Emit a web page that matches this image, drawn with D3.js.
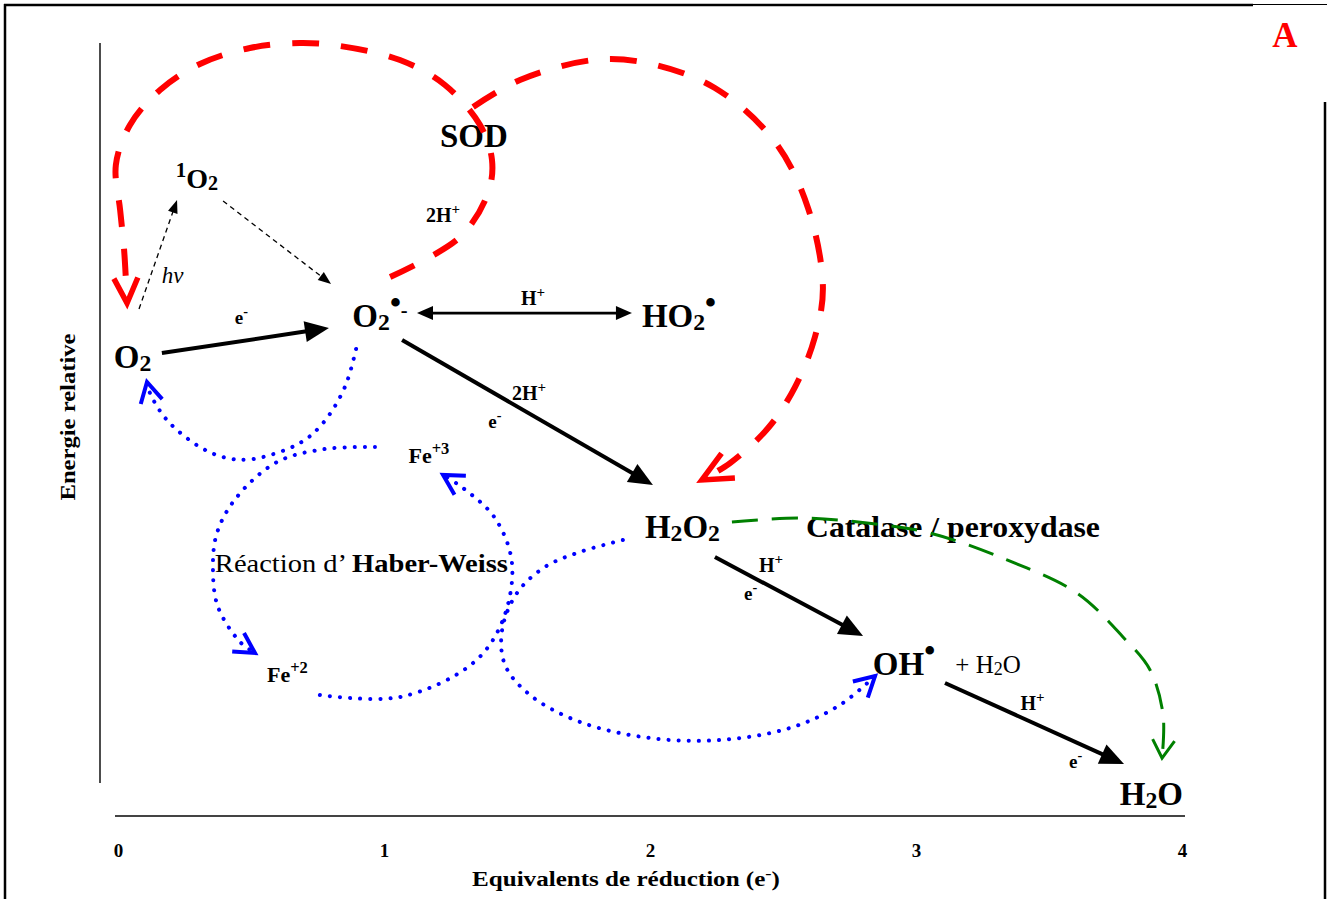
<!DOCTYPE html>
<html><head><meta charset="utf-8">
<script src="https://cdn.jsdelivr.net/npm/d3@7"></script>
<style>
html,body{margin:0;padding:0;background:#fff;}
svg{display:block;font-family:"Liberation Serif","Times New Roman",serif;}
text{white-space:pre;}
</style></head><body>
<svg id="chart" width="1330" height="899"></svg>
<script>
// ---------- DATA (x = reduction equivalents, e = relative energy 0..100) ----------
const xTicks = [0, 1, 2, 3, 4];
const xTitle = [["Equivalents de réduction (e"], ["-", "sup"], [")"]];
const yTitle = "Energie relative";
const panelLetter = "A";

const species = [
  {id: "O2",   x: 0.055, e: 58.05, parts: [["O"], ["2", "sub"]]},
  {id: "O2-",  x: 0.985, e: 63.38, parts: [["O"], ["2", "sub"], ["•", "dot"], ["-", "dsh"]]},
  {id: "HO2",  x: 2.109, e: 63.38, parts: [["HO"], ["2", "sub"], ["•", "dot"]]},
  {id: "H2O2", x: 2.122, e: 35.97, parts: [["H"], ["2", "sub"], ["O"], ["2", "sub"]]},
  {id: "OH",   x: 2.955, e: 18.18, parts: [["OH"], ["•", "dot"]]},
  {id: "H2O",  x: 3.885, e: 1.30,  parts: [["H"], ["2", "sub"], ["O"]]}
];
const singlet = [{id: "1O2", x: 0.297, e: 81.43, parts: [["1", "sup"], ["O"], ["2", "sub"]]}];

const cofactors = [
  {x: 1.222, e: 77.01, parts: [["2H"], ["+", "sup"]]},
  {x: 1.560, e: 66.23, parts: [["H"], ["+", "sup"]]},
  {x: 1.545, e: 53.90, parts: [["2H"], ["+", "sup"]]},
  {x: 2.455, e: 31.56, parts: [["H"], ["+", "sup"]]},
  {x: 3.438, e: 13.64, parts: [["H"], ["+", "sup"]]}
];
const electrons = [
  {x: 0.464, e: 63.77, parts: [["e"], ["-", "sup"]]},
  {x: 1.417, e: 50.26, parts: [["e"], ["-", "sup"]]},
  {x: 2.378, e: 27.92, parts: [["e"], ["-", "sup"]]},
  {x: 3.600, e: 6.10,  parts: [["e"], ["-", "sup"]]}
];
const light = [{x: 0.205, e: 69.09, parts: [["hv"]]}];
const ions = [
  {x: 1.169, e: 45.71, parts: [["Fe"], ["+3", "sup"]]},
  {x: 0.637, e: 17.27, parts: [["Fe"], ["+2", "sup"]]}
];
const enzymeSOD = [{x: 1.338, e: 86.75, parts: [["SOD"]]}];
const enzymeCat = [{x: 3.139, e: 36.10, parts: [["Catalase / peroxydase"]]}];
const haberWeiss = [{x: 0.915, e: 31.56, parts: [["Réaction d’ ", null, "normal"], ["Haber-Weiss", null, "bold"]]}];
const waterNote = [{x: 3.271, e: 18.44, parts: [["+ H"], ["2", "sub"], ["O"]]}];

// solid one-electron steps [from, to]
const reactions = [
  [[0.165, 60.00], [0.793, 63.25]],   // O2 -> O2•-
  [[1.068, 61.69], [2.011, 42.86]],   // O2•- -> H2O2
  [[2.244, 33.51], [2.801, 23.25]],   // H2O2 -> OH•
  [[3.109, 17.14], [3.782, 6.62]]     // OH• -> H2O
];
const equilibrium = [[[1.124, 65.19], [1.932, 65.19]]]; // O2•- <-> HO2•
const photoSteps = [
  [[0.079, 65.71], [0.222, 79.87]],   // O2 -> 1O2 (hv)
  [[0.395, 79.74], [0.801, 68.96]]    // 1O2 -> O2•-
];

const sodToO2 = [[1.023,69.87],[1.286,75.06],[1.391,80.78],[1.406,85.06],[1.361,89.61],[1.229,94.81],[1.060,98.05],[0.835,99.87],[0.684,100.26],[0.496,99.61],[0.308,97.53],[0.158,94.16],[0.045,89.61],[-0.008,84.42],[0.008,78.57],[0.023,73.38],[0.034,66.49]];
const sodToH2O2 = [[1.335,91.95],[1.511,95.45],[1.786,98.05],[1.989,97.66],[2.244,94.42],[2.470,87.40],[2.594,78.83],[2.650,68.57],[2.620,62.08],[2.545,55.58],[2.444,50.26],[2.301,45.71],[2.195,43.51]];
const catalase = [[2.308,38.05],[2.564,38.57],[2.816,37.92],[3.053,36.62],[3.342,33.12],[3.605,28.83],[3.778,23.12],[3.880,18.83],[3.929,12.99],[3.925,7.40]];
const hwToO2 = [[0.895,60.52],[0.853,55.58],[0.771,50.91],[0.684,48.31],[0.508,46.23],[0.410,46.36],[0.308,47.79],[0.184,51.30],[0.120,54.81],[0.109,56.23]];
const hwFe3ToFe2 = [[0.966,47.79],[0.778,47.53],[0.598,45.84],[0.447,41.30],[0.372,36.62],[0.357,31.82],[0.376,27.01],[0.459,22.47],[0.515,21.04]];
const hwFe2ToFe3 = [[0.759,15.58],[1.060,15.32],[1.335,19.74],[1.447,25.32],[1.481,32.73],[1.417,38.57],[1.297,42.47],[1.222,44.16]];
const hwH2O2ToOH = [[1.898,35.71],[1.737,34.16],[1.605,32.21],[1.500,28.83],[1.444,24.03],[1.455,19.48],[1.549,15.58],[1.737,12.08],[2.000,10.00],[2.263,9.74],[2.526,11.30],[2.714,14.29],[2.846,18.05]];

// ---------- RENDER ----------
const svg = d3.select("#chart");
const x = d3.scaleLinear().domain([0, 4]).range([118, 1182]);
const y = d3.scaleLinear().domain([0, 100]).range([815, 45]);
const P = d => [x(d[0]), y(d[1])];

// frame
const frame = svg.append("g").attr("stroke", "#000").attr("fill", "none");
frame.append("line").attr("x1", 5).attr("y1", 4).attr("x2", 5).attr("y2", 899).attr("stroke-width", 2.5);
frame.append("line").attr("x1", 4).attr("y1", 5).attr("x2", 1253).attr("y2", 5).attr("stroke-width", 2.5);
frame.append("line").attr("x1", 1253).attr("y1", 4.5).attr("x2", 1327).attr("y2", 4.5).attr("stroke-width", 1.2);
frame.append("line").attr("x1", 1325).attr("y1", 102).attr("x2", 1325).attr("y2", 899).attr("stroke-width", 2.5);
// y axis line
frame.append("line").attr("x1", 100).attr("y1", 43).attr("x2", 100).attr("y2", 783).attr("stroke-width", 1.4);

// x axis
const ax = svg.append("g").attr("transform", "translate(0,816)")
  .call(d3.axisBottom(x).tickValues(xTicks).tickSize(0).tickPadding(28).tickFormat(d3.format("d")));
ax.attr("font-size", null).attr("font-family", null);
ax.select(".domain").attr("stroke", "#444").attr("stroke-width", 2).attr("d", "M115,0H1185");
ax.selectAll("text").style("font-family", '"Liberation Serif",serif').style("font-size", "19px").style("font-weight", "bold").attr("fill", "#000");

const kinds = {
  base: {size: 1, off: 0},
  sub:  {size: 0.72, off: 0.08},
  sup:  {size: 0.75, off: -0.4},
  dot:  {size: 0.95, off: -0.42},
  dsh:  {size: 0.62, off: -0.3}
};
function label(g, d, fs, opts = {}) {
  const t = g.append("text")
    .attr("x", d.px != null ? d.px : x(d.x)).attr("y", d.py != null ? d.py : y(d.e))
    .attr("text-anchor", "middle").attr("font-size", fs)
    .attr("font-weight", opts.weight || "bold")
    .attr("font-style", opts.style || "normal")
    .attr("fill", opts.fill || "#000");
  if (opts.len) t.attr("textLength", opts.len).attr("lengthAdjust", "spacingAndGlyphs");
  if (opts.rotate) t.attr("transform", `rotate(-90,${d.px},${d.py})`);
  let cur = 0;
  d.parts.forEach(([s, k, w]) => {
    const kk = kinds[k || "base"];
    const off = kk.off * fs;
    const ts = t.append("tspan").attr("dy", (off - cur).toFixed(2)).attr("font-size", (kk.size * fs).toFixed(2)).text(s);
    if (w) ts.attr("font-weight", w);
    cur = off;
  });
  return t;
}

const gText = svg.append("g");
label(gText, {px: 626, py: 886, parts: xTitle}, 20, {len: 308});
label(gText, {px: 75, py: 417, parts: [[yTitle]]}, 20, {len: 167, rotate: true});
label(gText, {px: 1285, py: 47, parts: [[panelLetter]]}, 35, {fill: "#ff0000"});

species.forEach(d => label(gText, d, 33));
singlet.forEach(d => label(gText, d, 28));
cofactors.forEach(d => label(gText, d, 20));
electrons.forEach(d => label(gText, d, 19));
light.forEach(d => label(gText, d, 23, {style: "italic", weight: "normal"}));
ions.forEach(d => label(gText, d, 22));
enzymeSOD.forEach(d => label(gText, d, 33));
enzymeCat.forEach(d => label(gText, d, 29, {len: 294}));
haberWeiss.forEach(d => label(gText, d, 25, {weight: "normal", len: 293}));
waterNote.forEach(d => label(gText, d, 25, {weight: "normal"}));

// arrows
const gArr = svg.append("g");
function filledHead(p0, p1, L, W, color) {
  const dx = p1[0] - p0[0], dy = p1[1] - p0[1], n = Math.hypot(dx, dy), ux = dx / n, uy = dy / n;
  const bx = p1[0] - ux * L, by = p1[1] - uy * L;
  gArr.append("path").attr("d", `M${p1[0]},${p1[1]}L${bx - uy * W},${by + ux * W}L${bx + uy * W},${by - ux * W}Z`).attr("fill", color);
  return [p1[0] - ux * (L - 3), p1[1] - uy * (L - 3)];
}
reactions.forEach(([a, b]) => {
  const p0 = P(a), p1 = P(b);
  const e = filledHead(p0, p1, 24, 10.5, "#000");
  gArr.append("line").attr("x1", p0[0]).attr("y1", p0[1]).attr("x2", e[0]).attr("y2", e[1]).attr("stroke", "#000").attr("stroke-width", 4);
});
equilibrium.forEach(([a, b]) => {
  const p0 = P(a), p1 = P(b);
  const e1 = filledHead(p0, p1, 16, 7, "#000");
  const e0 = filledHead(p1, p0, 16, 7, "#000");
  gArr.append("line").attr("x1", e0[0]).attr("y1", e0[1]).attr("x2", e1[0]).attr("y2", e1[1]).attr("stroke", "#000").attr("stroke-width", 2.7);
});
photoSteps.forEach(([a, b]) => {
  const p0 = P(a), p1 = P(b);
  const e = filledHead(p0, p1, 13, 5, "#000");
  gArr.append("line").attr("x1", p0[0]).attr("y1", p0[1]).attr("x2", e[0]).attr("y2", e[1]).attr("stroke", "#000").attr("stroke-width", 1.3).attr("stroke-dasharray", "5,4");
});

// curves
const lineGen = d3.line().x(d => x(d[0])).y(d => y(d[1])).curve(d3.curveCatmullRom.alpha(0.5));
function curve(pts, color, w, dash, cap, L, W, hw) {
  const path = gArr.append("path").attr("d", lineGen(pts)).attr("fill", "none")
    .attr("stroke", color).attr("stroke-width", w).attr("stroke-dasharray", dash).attr("stroke-linecap", cap);
  const node = path.node(), T = node.getTotalLength();
  const a = node.getPointAtLength(T - 8), b = node.getPointAtLength(T);
  const dx = b.x - a.x, dy = b.y - a.y, n = Math.hypot(dx, dy), ux = dx / n, uy = dy / n;
  const bx = b.x - ux * L, by = b.y - uy * L;
  gArr.append("path").attr("d", `M${bx - uy * W},${by + ux * W}L${b.x},${b.y}L${bx + uy * W},${by - ux * W}`)
    .attr("fill", "none").attr("stroke", color).attr("stroke-width", hw).attr("stroke-linejoin", "miter").attr("stroke-linecap", "butt");
}
curve(sodToO2, "#ff0000", 6, "27,22", "butt", 25, 12, 5.5);
curve(sodToH2O2, "#ff0000", 6, "27,22", "butt", 30, 14, 5.5);
curve(catalase, "#008000", 3, "26,14", "butt", 18, 11, 3);
const blue = "#0000ff";
curve(hwToO2, blue, 4, "0.1,10", "round", 20, 11, 4);
curve(hwFe3ToFe2, blue, 4, "0.1,10", "round", 20, 11, 4);
curve(hwFe2ToFe3, blue, 4, "0.1,10", "round", 20, 11, 4);
curve(hwH2O2ToOH, blue, 4, "0.1,10", "round", 20, 11, 4);
</script>
</body></html>
